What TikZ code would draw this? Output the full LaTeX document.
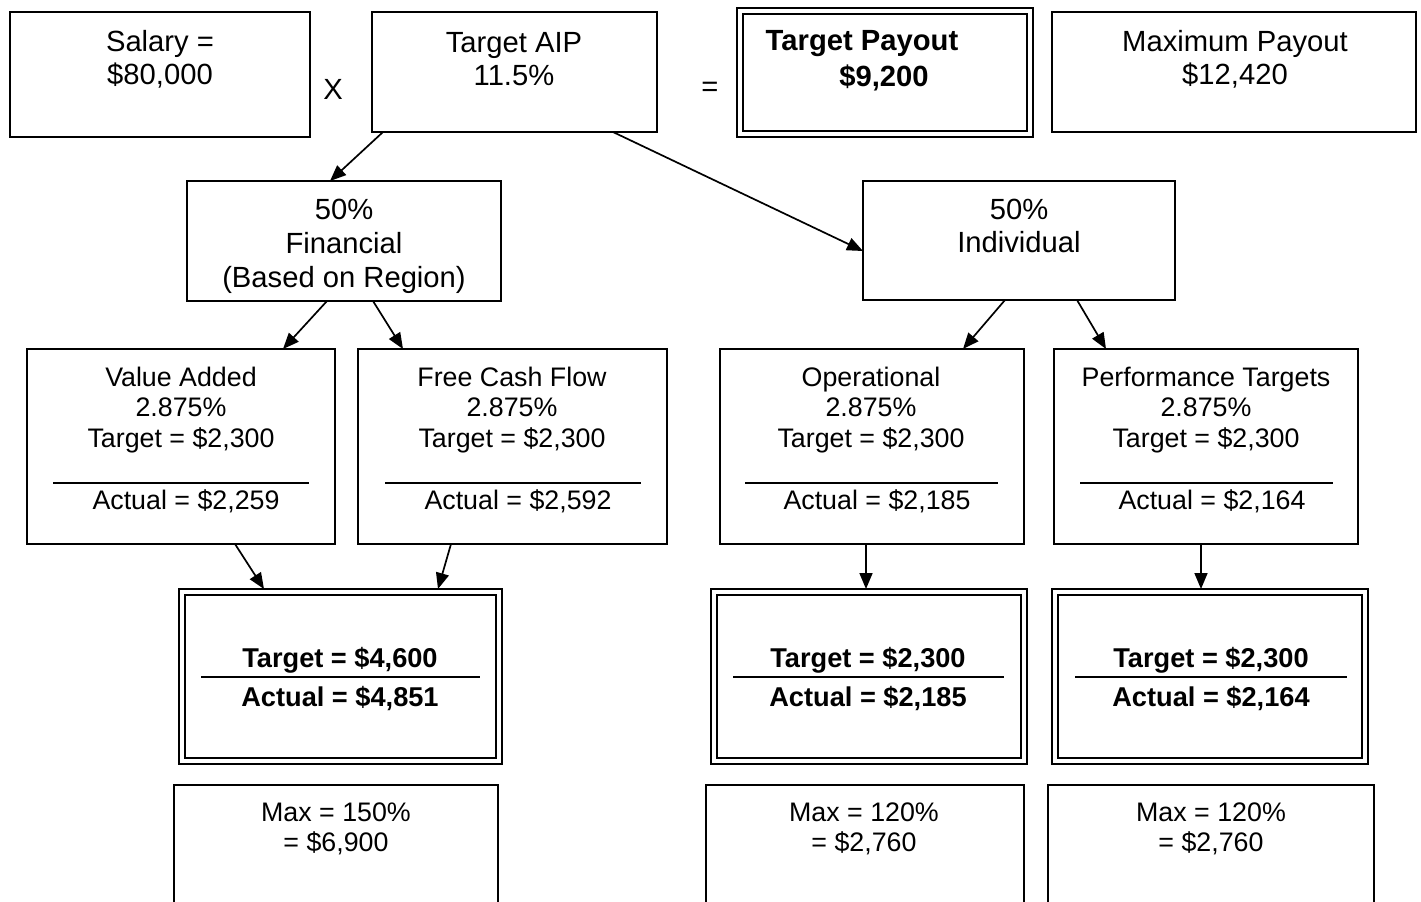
\documentclass[tikz,border=0pt]{standalone}
\usepackage{fontspec}
\setmainfont{Liberation Sans}
\usetikzlibrary{arrows.meta,calc}

\begin{document}
\begin{tikzpicture}[x=0.5pt,y=-0.5pt,
  box/.style={draw, line width=0.9pt, inner sep=0pt, outer sep=0pt, rectangle},
  dbox/.style={draw, line width=1pt, double=white, double distance=2pt, inner sep=0pt, outer sep=0pt, rectangle},
  bigtxt/.style={inner sep=0pt, align=center, font=\fontsize{14.6}{16.5}\selectfont},
  smalltxt/.style={inner sep=0pt, align=center, font=\fontsize{13.4}{15.25}\selectfont},
  boldtxt/.style={inner sep=0pt, align=center, font=\fontsize{13.6}{16}\selectfont\bfseries},
  rule/.style={line width=0.6pt},
  boldrule/.style={line width=1.2pt},
  arr/.style={-{Triangle[length=8pt,width=6.5pt]}, line width=0.85pt}
]
\useasboundingbox (0,0) rectangle (1421,901);
\clip (0,0) rectangle (1421,901);

% top row
\node[box, minimum width=150pt, minimum height=62.5pt] (salary) at (160,74.5) {};
\node[bigtxt] (salaryT) at (160,59) {Salary =\\\$80,000};
\node[bigtxt] (times) at (333,89) {X};
\node[box, minimum width=142.5pt, minimum height=60pt] (aip) at (514.5,72) {};
\node[bigtxt] (aipT) at (514,59) {Target AIP\\11.5\%};
\node[bigtxt] (equals) at (710,89) {=};
\node[dbox, minimum width=145pt, minimum height=61.5pt] (tpay) at (884.5,72) {};
\node[boldtxt, font=\fontsize{14.6}{16.5}\selectfont\bfseries] (tpayA) at (862,44) {Target Payout};
\node[boldtxt, font=\fontsize{14.6}{16.5}\selectfont\bfseries] (tpayB) at (884,78) {\$9,200};
\node[box, minimum width=182pt, minimum height=60pt] (maxp) at (1234,72) {};
\node[bigtxt] (maxpT) at (1235,59) {Maximum Payout\\\$12,420};

% split
\node[box, minimum width=157pt, minimum height=60pt] (fin) at (344,241) {};
\node[bigtxt, font=\fontsize{14.6}{17}\selectfont] (finT) at (344,246) {50\%\\Financial\\(Based on Region)};
\node[box, minimum width=156pt, minimum height=59.5pt] (ind) at (1019,240.5) {};
\node[bigtxt] (indT) at (1019,226) {50\%\\Individual};

% measures
\node[box, minimum width=154pt, minimum height=97.5pt] (va) at (181,446.5) {};
\node[smalltxt] (vaT) at (181,410) {Value Added\\2.875\%\\Target = \$2,300};
\draw[rule] (53,483) -- (309,483);
\node[smalltxt] (vaA) at (186,501.5) {Actual = \$2,259};

\node[box, minimum width=154.5pt, minimum height=97.5pt] (fcf) at (512.5,446.5) {};
\node[smalltxt] (fcfT) at (512,410) {Free Cash Flow\\2.875\%\\Target = \$2,300};
\draw[rule] (385,483) -- (641,483);
\node[smalltxt] (fcfA) at (518,501.5) {Actual = \$2,592};

\node[box, minimum width=152pt, minimum height=97.5pt] (ops) at (872,446.5) {};
\node[smalltxt] (opsT) at (871,410) {Operational\\2.875\%\\Target = \$2,300};
\draw[rule] (745,483) -- (998,483);
\node[smalltxt] (opsA) at (877,501.5) {Actual = \$2,185};

\node[box, minimum width=152pt, minimum height=97.5pt] (perf) at (1206,446.5) {};
\node[smalltxt] (perfT) at (1206,410) {Performance Targets\\2.875\%\\Target = \$2,300};
\draw[rule] (1080,483) -- (1333,483);
\node[smalltxt] (perfA) at (1212,501.5) {Actual = \$2,164};

% results
\node[dbox, minimum width=158.5pt, minimum height=84.5pt] (finres) at (340.5,676.5) {};
\node[boldtxt] (finresT) at (340,660) {Target = \$4,600};
\draw[boldrule] (201,677) -- (480,677);
\node[boldtxt] (finresA) at (340,699) {Actual = \$4,851};

\node[dbox, minimum width=155pt, minimum height=84.5pt] (opsres) at (869,676.5) {};
\node[boldtxt] (opsresT) at (868,660) {Target = \$2,300};
\draw[boldrule] (733,677) -- (1004,677);
\node[boldtxt] (opsresA) at (868,699) {Actual = \$2,185};

\node[dbox, minimum width=155pt, minimum height=84.5pt] (perfres) at (1210,676.5) {};
\node[boldtxt] (perfresT) at (1211,660) {Target = \$2,300};
\draw[boldrule] (1075,677) -- (1347,677);
\node[boldtxt] (perfresA) at (1211,699) {Actual = \$2,164};

% maxima
\node[box, minimum width=162pt, minimum height=75pt] (max1) at (336,860) {};
\node[smalltxt] (max1T) at (336,829) {Max = 150\%\\= \$6,900};
\node[box, minimum width=159pt, minimum height=75pt] (max2) at (865,860) {};
\node[smalltxt] (max2T) at (864,829) {Max = 120\%\\= \$2,760};
\node[box, minimum width=163pt, minimum height=75pt] (max3) at (1211,860) {};
\node[smalltxt] (max3T) at (1211,829) {Max = 120\%\\= \$2,760};

% connectors
\draw[arr] ($(aip.south west)+(11,0)$) -- ($(fin.north west)+(143,0)$);
\draw[arr] ($(aip.south west)+(241,0)$) -- ($(ind.north west)+(0,70)$);
\draw[arr] ($(fin.south west)+(140,0)$) -- ($(va.north west)+(256,0)$);
\draw[arr] ($(fin.south west)+(186,0)$) -- ($(fcf.north west)+(45,0)$);
\draw[arr] ($(ind.south west)+(142,0)$) -- ($(ops.north west)+(243,0)$);
\draw[arr] ($(ind.south west)+(214,0)$) -- ($(perf.north west)+(52,0)$);
\draw[arr] ($(va.south west)+(208,0)$) -- ($(finres.north west)+(82,-3)$);
\draw[arr] ($(fcf.south west)+(93,0)$) -- ($(finres.north west)+(256,-3)$);
\draw[arr] ($(ops.south west)+(146,0)$) -- ($(opsres.north west)+(152,-3)$);
\draw[arr] ($(perf.south west)+(147,0)$) -- ($(perfres.north west)+(146,-3)$);
\end{tikzpicture}
\end{document}
